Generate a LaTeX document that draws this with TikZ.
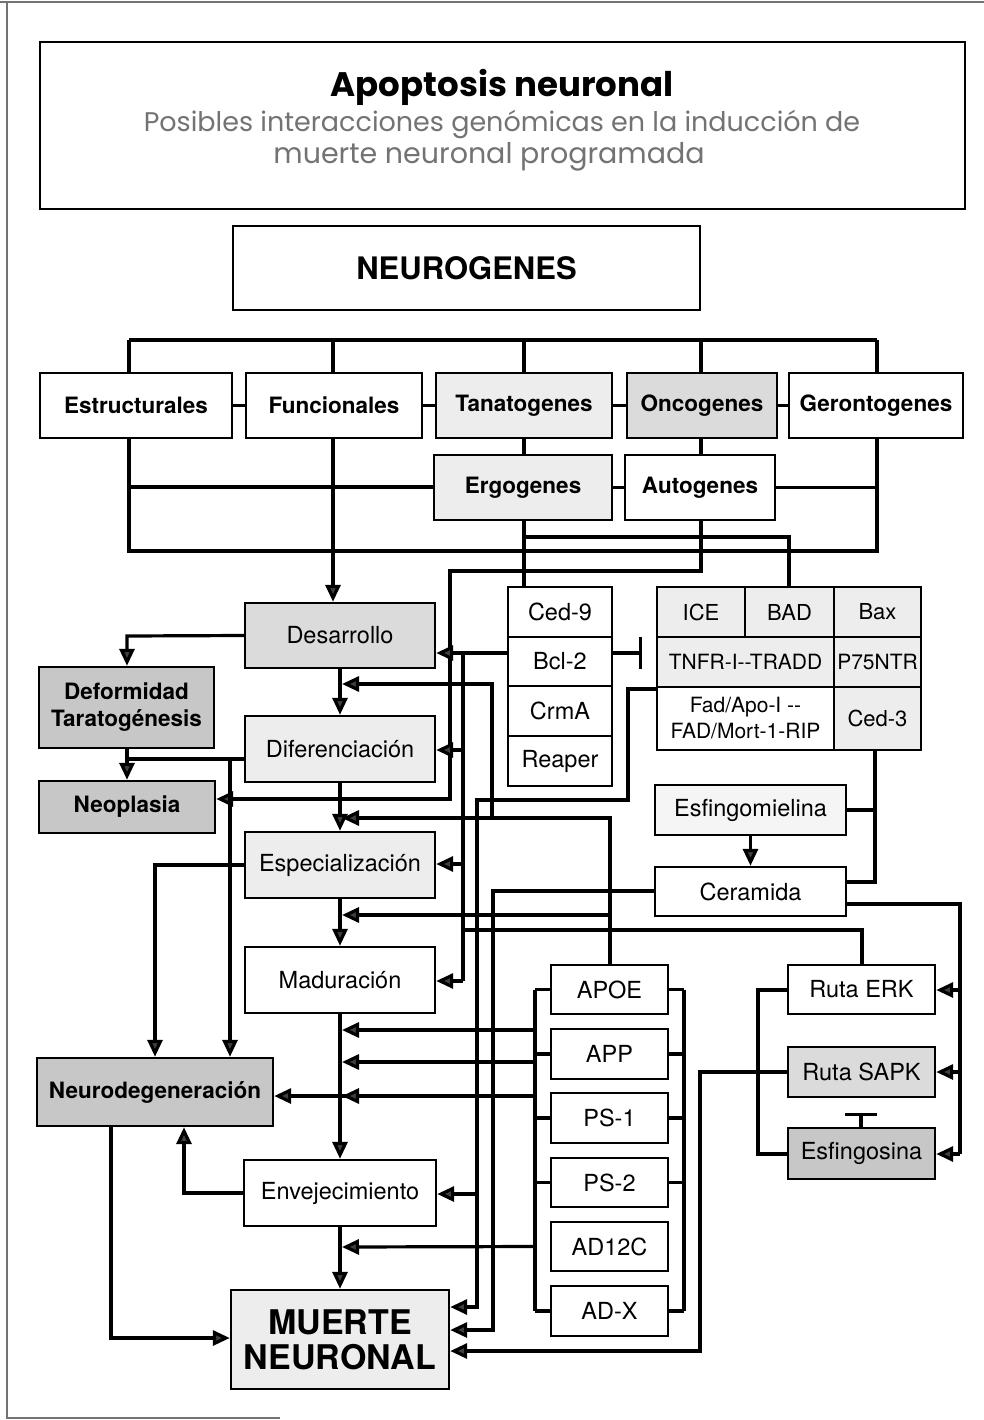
\documentclass[tikz,border=0pt]{standalone}
\usepackage{fontspec}
\setmainfont{TeX Gyre Heros}
\newfontfamily\headfont{Poppins}
\usetikzlibrary{arrows.meta}
\newcommand\fsz[2]{\fontsize{#1pt}{#2pt}\selectfont}
% box from corner (x1,y1) to (x2,y2): name, x1, y1, x2, y2, style, text
\newcommand\bx[7]{\node[#6, minimum width={#4-#2}, minimum height={#5-#3}] (#1) at ({(#2+#4)/2},{(#3+#5)/2}) {#7};}
\begin{document}
\begin{tikzpicture}[x=1pt,y=-1pt,
  box/.style={draw, line width=2.4pt, inner sep=0pt, align=center, font=\fsz{23.5}{26}},
  bbox/.style={box, font=\fsz{22.5}{27}\bfseries},
  shA/.style={fill=black!7},
  shB/.style={fill=black!14},
  shC/.style={fill=black!22},
  conn/.style={line width=3.2pt},
  arr/.style={conn, -{Triangle[length=17pt,width=15pt,fill=black!75]}},
  inh/.style={conn, -{Bar[width=32pt]}}]
\useasboundingbox (0,0) rectangle (984,1420);
\fill[white] (0,0) rectangle (984,1420);
% page frame
\draw[line width=1.2pt, black!55] (0,2) -- (984,2);
\draw[line width=1.2pt, black!55] (7,2) -- (7,1418) -- (280,1418);

% heading
\bx{titlebox}{40}{42}{965}{209}{box, line width=2pt}{}
\node[font=\headfont\bfseries\fsz{34}{36}] (title) at (502,87) {Apoptosis neuronal};
\node[font=\headfont\fsz{27}{30}, text=black!55] (sub1) at (502,124) {Posibles interacciones genómicas en la inducción de};
\node[font=\headfont\fsz{28.5}{30}, text=black!55] (sub2) at (489,157) {muerte neuronal programada};

% gene families
\bx{neuro}{233}{226}{700}{310}{box, font=\fsz{31}{34}\bfseries}{NEUROGENES}
\bx{estr}{40}{373}{232}{438}{bbox}{Estructurales}
\bx{func}{246}{373}{422}{438}{bbox}{Funcionales}
\bx{tana}{436}{373}{612}{438}{bbox, shA}{Tanatogenes}
\bx{onco}{627}{373}{777}{438}{bbox, shB}{Oncogenes}
\bx{geron}{789}{373}{963}{438}{bbox}{Gerontogenes}
\bx{ergo}{434}{455}{612}{520}{bbox, shA}{Ergogenes}
\bx{auto}{625}{455}{775}{520}{bbox}{Autogenes}

% neuronal life stages
\bx{desa}{245}{603}{435}{668}{box, shB}{Desarrollo}
\bx{dife}{245}{716}{435}{782}{box, shA}{Diferenciación}
\bx{espe}{245}{832}{435}{898}{box, shA}{Especialización}
\bx{madu}{245}{947}{435}{1013}{box}{Maduración}
\bx{enve}{244}{1160}{436}{1226}{box}{Envejecimiento}
\bx{muerte}{231}{1290}{449}{1389}{box, shA, font=\fsz{34}{35}\bfseries}{MUERTE\\NEURONAL}
\bx{defo}{39}{667}{214}{748}{bbox, shC}{Deformidad\\Taratogénesis}
\bx{neop}{39}{781}{215}{833}{bbox, shC}{Neoplasia}
\bx{neurod}{37}{1058}{273}{1126}{bbox, shC}{Neurodegeneración}

% anti-apoptotic genes
\bx{ced9}{508}{587}{612}{637}{box}{Ced-9}
\bx{bcl}{508}{637}{612}{686}{box}{Bcl-2}
\bx{crma}{508}{686}{612}{736}{box}{CrmA}
\bx{reaper}{508}{736}{612}{786}{box}{Reaper}

% pro-apoptotic complex
\bx{ice}{657}{587}{745}{637}{box, shA, font=\fsz{22}{26}}{ICE}
\bx{bad}{745}{587}{834}{637}{box, shA, font=\fsz{22}{26}}{BAD}
\bx{bax}{834}{587}{921}{637}{box, shA, font=\fsz{22}{26}}{Bax}
\bx{tnfr}{657}{637}{834}{687}{box, shA, font=\fsz{21}{26}}{TNFR-I-{}-TRADD}
\bx{p75}{834}{637}{921}{687}{box, shA, font=\fsz{21}{26}}{P75NTR}
\bx{fad}{657}{687}{834}{750}{box, font=\fsz{21}{26}}{Fad/Apo-I -{}-\\FAD/Mort-1-RIP}
\bx{ced3}{834}{687}{921}{750}{box, shA, font=\fsz{22}{26}}{Ced-3}

% sphingolipid pathway
\bx{esfm}{655}{785}{846}{835}{box, fill=black!4}{Esfingomielina}
\bx{cera}{655}{867}{846}{916}{box}{Ceramida}
\bx{erk}{788}{965}{935}{1014}{box}{Ruta ERK}
\bx{sapk}{788}{1047}{935}{1097}{box, shB}{Ruta SAPK}
\bx{esfs}{788}{1128}{935}{1179}{box, shC}{Esfingosina}

% Alzheimer related genes
\bx{apoe}{551}{965}{668}{1014}{box}{APOE}
\bx{app}{551}{1029}{668}{1079}{box}{APP}
\bx{ps1}{551}{1093}{668}{1143}{box}{PS-1}
\bx{ps2}{551}{1158}{668}{1207}{box}{PS-2}
\bx{ad12}{551}{1222}{668}{1271}{box}{AD12C}
\bx{adx}{551}{1286}{668}{1336}{box}{AD-X}

% ---- tree of gene families
\coordinate (t1) at (129,340);
\coordinate (t2) at (333,340);
\coordinate (t3) at (524,340);
\coordinate (t4) at (701,340);
\coordinate (t5) at (877,340);
\draw[conn] (t1) -- (t5);
\draw[conn] (t1) -- (t1 |- estr.north);
\draw[conn] (t2) -- (t2 |- func.north);
\draw[conn] (t3) -- (t3 |- tana.north);
\draw[conn] (t4) -- (t4 |- onco.north);
\draw[conn] (t5) -- (t5 |- geron.north);
\draw[conn] (estr) -- (func);
\draw[conn] (func) -- (tana);
\draw[conn] (tana) -- (onco);
\draw[conn] (onco) -- (geron);
\draw[conn] (tana.south -| t3) -- (ergo.north -| t3);
\draw[conn] (onco.south -| t4) -- (auto.north -| t4);
\draw[conn] (ergo) -- (auto);
\coordinate (m1) at (129,487);
\draw[conn] (m1) -- (m1 -| ergo.west);
\draw[conn] (auto.east) -- (auto.east -| t5);
\coordinate (u1) at (129,551);
\coordinate (u5) at (877,551);
\draw[conn] (estr.south -| t1) -- (u1) -- (u5) -- (geron.south -| t5);
\draw[arr] (func.south -| t2) -- (desa.north -| t2);

% ---- ergogenes and autogenes
\draw[conn] (ergo.south -| t3) -- (ced9.north -| t3);
\coordinate (e1) at (524,537);
\coordinate (e2) at (789,537);
\draw[conn] (e1) -- (e2) -- (bad.north -| e2);
\coordinate (a1) at (701,571);
\coordinate (a2) at (450,571);
\coordinate (a3) at (450,799);
\draw[arr] (auto.south -| a1) -- (a1) -- (a2) -- (a3) -- (a3 -| neop.east);

% ---- Bcl-2
\coordinate (bv1) at (463,653);
\coordinate (bv2) at (463,981);
\coordinate (bv3) at (463,750);
\coordinate (bv4) at (463,864);
\coordinate (bi) at (642,653);
\draw[arr] (bcl.west |- bv1) -- (bv1 -| desa.east);
\draw[conn] (bv1) -- (bv2);
\draw[arr] (bv2) -- (bv2 -| madu.east);
\draw[arr] (bv3) -- (bv3 -| dife.east);
\draw[arr] (bv4) -- (bv4 -| espe.east);
\draw[inh] (bcl.east |- bi) -- (bi);
\coordinate (k1) at (463,930);
\coordinate (k2) at (862,930);
\draw[conn] (k1) -- (k2) -- (k2 |- erk.north);

% ---- Fas / Apo-1 pathway
\coordinate (f1) at (628,689);
\coordinate (f2) at (628,800);
\coordinate (f3) at (477,800);
\coordinate (f4) at (477,1307);
\coordinate (f5) at (477,1194);
\draw[arr] (fad.west |- f1) -- (f1) -- (f2) -- (f3) -- (f4) -- (f4 -| muerte.east);
\draw[arr] (f5) -- (f5 -| enve.east);

% ---- APOE feeds the main chain
\coordinate (vA) at (342,818);
\coordinate (vB) at (342,684);
\coordinate (vC) at (342,915);
\coordinate (p1) at (610,818);
\coordinate (p2) at (492,818);
\coordinate (p3) at (492,684);
\coordinate (p4) at (610,915);
\draw[arr] (apoe.north -| p1) -- (p1) -- (vA);
\draw[arr] (p2) -- (p3) -- (vB);
\draw[arr] (p4) -- (vC);

% ---- ceramide
\coordinate (c1) at (493,891);
\coordinate (c2) at (493,1330);
\draw[arr] (cera.west |- c1) -- (c1) -- (c2) -- (c2 -| muerte.east);
\coordinate (d1) at (875,810);
\coordinate (d2) at (875,882);
\draw[conn] (ced3.south -| d1) -- (d2) -- (d2 -| cera.east);
\draw[conn] (d1) -- (d1 -| esfm.east);
\draw[arr] (esfm) -- (cera);
\coordinate (h1) at (960,904);
\coordinate (h2) at (960,1154);
\coordinate (h3) at (960,990);
\coordinate (h4) at (960,1072);
\draw[conn] (cera.east |- h1) -- (h1) -- (h2);
\draw[arr] (h2) -- (h2 -| esfs.east);
\draw[arr] (h3) -- (h3 -| erk.east);
\draw[arr] (h4) -- (h4 -| sapk.east);
\coordinate (ib) at (861,1113);
\draw[inh] (esfs.north -| ib) -- (ib);
\coordinate (r1) at (758,990);
\coordinate (r2) at (758,1154);
\draw[conn] (erk.west |- r1) -- (r1) -- (r2) -- (r2 -| esfs.west);
\coordinate (s1) at (700,1072);
\coordinate (s2) at (700,1351);
\draw[arr] (sapk.west |- s1) -- (s1) -- (s2) -- (s2 -| muerte.east);

% ---- Alzheimer gene rails
\coordinate (L1) at (535,990);
\coordinate (R1) at (684,990);
\draw[conn] (apoe.west -| L1) -- (adx.west -| L1);
\draw[conn] (apoe.east -| R1) -- (adx.east -| R1);
\foreach \n in {apoe,app,ps1,ps2,adx} {
  \draw[conn] (\n.west) -- (\n.west -| L1);
  \draw[conn] (\n.east) -- (\n.east -| R1);
}
\coordinate (w1) at (535,1030);
\coordinate (w2) at (535,1062);
\coordinate (w3) at (535,1096);
\coordinate (vD) at (342,1030);
\coordinate (vE) at (342,1062);
\coordinate (vF) at (342,1096);
\coordinate (vG) at (342,1247);
\draw[arr] (w1) -- (vD);
\draw[arr] (w2) -- (vE);
\draw[arr] (w3) -- (neurod.east |- w3);
\draw[arr] (w3) -- (vF);
\draw[arr] (ad12.west -| L1) -- (vG);

% ---- main chain of stages
\draw[arr] (desa) -- (dife);
\draw[arr] (dife) -- (espe);
\draw[arr] (espe) -- (madu);
\draw[arr] (madu) -- (enve);
\draw[arr] (enve) -- (muerte);

% ---- left-hand outcomes
\coordinate (l1) at (127,636);
\coordinate (l2) at (127,759);
\coordinate (l3) at (230,759);
\coordinate (l4) at (155,865);
\coordinate (l5) at (111,1338);
\coordinate (l6) at (184,1193);
\draw[arr] (desa.west) -- (l1) -- (l1 |- defo.north);
\draw[arr] (defo.south -| l1) -- (neop.north -| l1);
\draw[conn] (dife.west |- l2) -- (l2);
\draw[arr] (l3) -- (l3 |- neurod.north);
\draw[arr] (espe.west) -- (l4) -- (l4 |- neurod.north);
\draw[arr] (neurod.south -| l5) -- (l5) -- (l5 -| muerte.west);
\draw[arr] (enve.west) -- (l6) -- (l6 |- neurod.south);
\end{tikzpicture}
\end{document}
